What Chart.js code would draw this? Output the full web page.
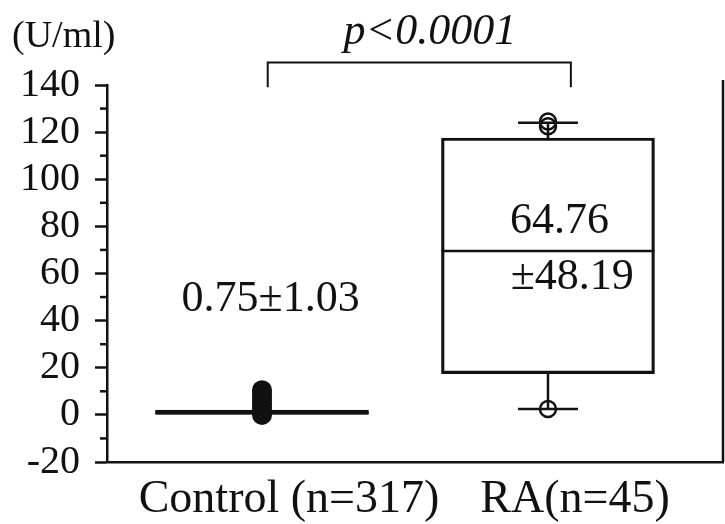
<!DOCTYPE html>
<html>
<head>
<meta charset="utf-8">
<script src="https://cdn.jsdelivr.net/npm/chart.js@4.4.1/dist/chart.umd.min.js"></script>
<style>
  html, body { margin: 0; padding: 0; background: #fff; }
  canvas { display: block; }
</style>
</head>
<body>
<canvas id="boxChart" width="725" height="524"></canvas>
<script>
// box plot values (U/ml)
const categories = ['Control (n=317)', 'RA(n=45)'];
const xPos = [1, 2];
const q1 = [0, 17.5];
const median = [0.75, 69.5];
const q3 = [2, 117.5];
const whiskerLow = [0, 2.5];
const whiskerHigh = [2, 124];
const controlOutliers = [0, 1.5, 3, 4.5, 6, 7.5, 9, 10.5];
const raOutliers = [124.5, 122.5, 2.5];
const yTicks = [-20, 0, 20, 40, 60, 80, 100, 120, 140];
const boxTexts = [
  { text: '0.75\u00b11.03', x: 1.03, y: 49 },
  { text: '64.76', x: 2.04, y: 82 },
  { text: '\u00b148.19', x: 2.085, y: 58.5 }
];

const SERIF = "'Liberation Serif', 'Times New Roman', serif";
Chart.defaults.font.family = SERIF;
Chart.defaults.color = '#111';

//! whiskers, medians, minor ticks and the text bits
const boxExtras = {
  id: 'boxExtras',
  afterDatasetsDraw(chart) {
    const ctx = chart.ctx;
    const xs = chart.scales.x, ys = chart.scales.y;
    ctx.save();
    ctx.strokeStyle = '#111';
    ctx.lineWidth = 2.5;
    xPos.forEach((xv, i) => {
      const cx = xs.getPixelForValue(xv);
      const half = 213 / 2;
      // median
      let y = ys.getPixelForValue(median[i]);
      ctx.beginPath(); ctx.moveTo(cx - half, y); ctx.lineTo(cx + half, y); ctx.stroke();
      // whiskers + caps
      [[q3[i], whiskerHigh[i]], [q1[i], whiskerLow[i]]].forEach(([from, to]) => {
        if (from === to) return;
        const y1 = ys.getPixelForValue(from), y2 = ys.getPixelForValue(to);
        ctx.beginPath(); ctx.moveTo(cx, y1); ctx.lineTo(cx, y2); ctx.stroke();
        ctx.beginPath(); ctx.moveTo(cx - 30, y2); ctx.lineTo(cx + 30, y2); ctx.stroke();
      });
    });
    ctx.restore();
  },
  afterDraw(chart) {
    const ctx = chart.ctx;
    const xs = chart.scales.x, ys = chart.scales.y;
    const area = chart.chartArea;
    ctx.save();
    ctx.strokeStyle = '#111';
    ctx.fillStyle = '#111';
    ctx.lineWidth = 2.5;

    // minor ticks on y
    for (let v = -10; v < 140; v += 20) {
      const y = ys.getPixelForValue(v);
      ctx.beginPath(); ctx.moveTo(area.left - 7, y); ctx.lineTo(area.left, y); ctx.stroke();
    }

    // right frame line
    ctx.beginPath(); ctx.moveTo(area.right, area.top - 5); ctx.lineTo(area.right, area.bottom); ctx.stroke();

    // p-value bracket
    const bx1 = xs.getPixelForValue(1.02), bx2 = xs.getPixelForValue(2.08);
    const byTop = ys.getPixelForValue(149.5), byEnd = ys.getPixelForValue(139);
    ctx.lineWidth = 2;
    ctx.beginPath();
    ctx.moveTo(bx1, byEnd); ctx.lineTo(bx1, byTop); ctx.lineTo(bx2, byTop); ctx.lineTo(bx2, byEnd);
    ctx.stroke();

    ctx.textBaseline = 'middle';
    ctx.textAlign = 'center';
    ctx.font = 'italic 44px ' + SERIF;
    ctx.fillText('p<0.0001', xs.getPixelForValue(1.587), ys.getPixelForValue(162.5));

    ctx.font = '44px ' + SERIF;
    boxTexts.forEach(t => {
      ctx.fillText(t.text, xs.getPixelForValue(t.x), ys.getPixelForValue(t.y));
    });

    ctx.textAlign = 'left';
    ctx.font = '38px ' + SERIF;
    ctx.fillText('(U/ml)', 12, 37);
    ctx.restore();
  }
};

new Chart('boxChart', {
  type: 'bar',
  data: {
    datasets: [
      {
        type: 'bar',
        data: xPos.map((x, i) => ({ x: x, y: [q1[i], q3[i]] })),
        backgroundColor: 'rgba(255,255,255,0)',
        borderColor: '#111',
        borderWidth: 2.5,
        borderSkipped: false,
        barThickness: 213,
        order: 2
      },
      {
        type: 'scatter',
        data: controlOutliers.map(v => ({ x: xPos[0], y: v })),
        pointStyle: 'circle',
        pointRadius: 10,
        backgroundColor: '#111',
        borderColor: '#111',
        borderWidth: 0,
        order: 1
      },
      {
        type: 'scatter',
        data: raOutliers.map(v => ({ x: xPos[1], y: v })),
        pointStyle: 'circle',
        pointRadius: 8,
        backgroundColor: 'rgba(255,255,255,0)',
        borderColor: '#111',
        borderWidth: 2.5,
        order: 1
      }
    ]
  },
  options: {
    responsive: false,
    animation: false,
    devicePixelRatio: 1,
    layout: { autoPadding: false, padding: { top: 85, right: 2, left: 0, bottom: 0 } },
    plugins: {
      legend: { display: false },
      title: { display: false },
      tooltip: { enabled: false }
    },
    scales: {
      x: {
        type: 'linear',
        offset: false,
        min: 0.458,
        max: 2.612,
        afterBuildTicks: scale => { scale.ticks = xPos.map(v => ({ value: v })); },
        afterFit: scale => { scale.height = 62; },
        ticks: {
          callback: (value) => categories[xPos.indexOf(value)],
          font: { size: 46 },
          color: '#111',
          labelOffset: 27,
          padding: 10,
          maxRotation: 0,
          autoSkip: false
        },
        grid: { offset: false, drawOnChartArea: false, drawTicks: false },
        border: { color: '#111', width: 2.5 }
      },
      y: {
        min: -20,
        max: 140,
        afterBuildTicks: scale => { scale.ticks = yTicks.map(v => ({ value: v })); },
        afterFit: scale => { scale.width = 107; },
        ticks: {
          font: { size: 40 },
          color: '#111',
          padding: 15,
          autoSkip: false
        },
        grid: { drawOnChartArea: false, tickLength: 12, tickWidth: 2.5, tickColor: '#111' },
        border: { color: '#111', width: 2.5 }
      }
    }
  },
  plugins: [boxExtras]
});
</script>
</body>
</html>
